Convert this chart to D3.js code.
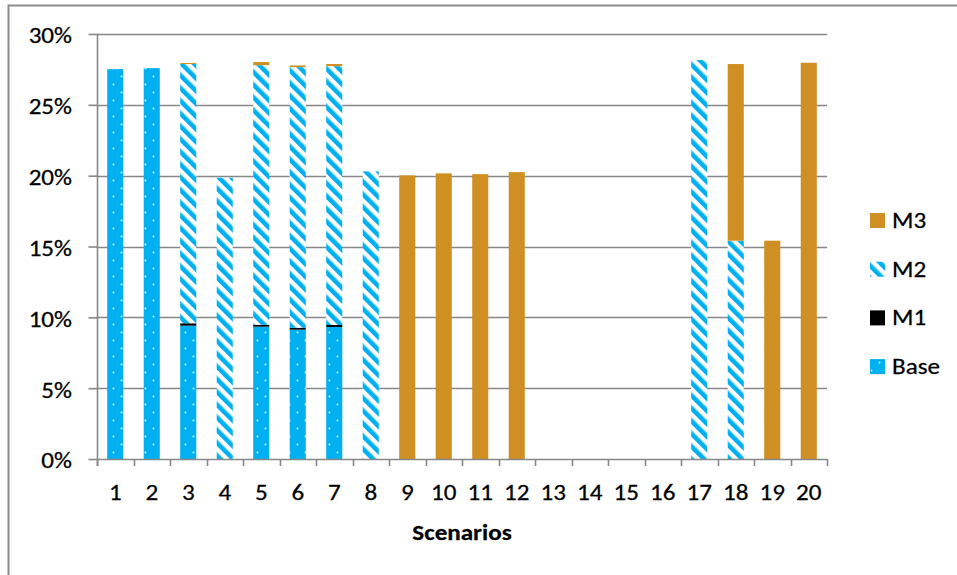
<!DOCTYPE html>
<html>
<head>
<meta charset="utf-8">
<script src="https://cdn.jsdelivr.net/npm/d3@7"></script>
<style>
  html, body { margin: 0; padding: 0; background: #fff; }
  svg { display: block; font-family: Carlito, Calibri, Lato, "Open Sans", sans-serif; }
</style>
</head>
<body>
<svg id="chart" width="957" height="575"></svg>
<script>
// Scenario labels along the x axis
const categories = ["1","2","3","4","5","6","7","8","9","10","11","12","13","14","15","16","17","18","19","20"];

// Stacked components, in percent
const base = [27.52, 27.59, 9.41, 0, 9.34, 9.13, 9.32, 0, 0, 0, 0, 0, 0, 0, 0, 0, 0, 0, 0, 0];
const m1   = [0, 0, 0.17, 0, 0.14, 0.14, 0.14, 0, 0, 0, 0, 0, 0, 0, 0, 0, 0, 0, 0, 0];
const m2   = [0, 0, 18.30, 19.85, 18.32, 18.39, 18.27, 20.30, 0, 0, 0, 0, 0, 0, 0, 0, 28.16, 15.41, 0, 0];
const m3   = [0, 0, 0.07, 0, 0.22, 0.12, 0.15, 0, 20.02, 20.16, 20.11, 20.25, 0, 0, 0, 0, 0, 12.47, 15.41, 27.97];

// Y axis ticks (percent)
const yTicks = [0, 5, 10, 15, 20, 25, 30];

const seriesNames = ["Base", "M1", "M2", "M3"];
const seriesData = { Base: base, M1: m1, M2: m2, M3: m3 };

const BLUE = "#00B0F0";
const GOLD = "#D08F22";
const GRID = "#878787";
const FONT_SIZE = 22;
const STRETCH = 1.14;   // text is set slightly wide

const svg = d3.select("#chart");

// Outer chart frame (left and top edges)
svg.append("rect")
  .attr("x", 8.5).attr("y", 5.5)
  .attr("width", 1000).attr("height", 1000)
  .attr("fill", "none").attr("stroke", "#8c8c8c").attr("stroke-width", 2);

// Fill patterns
const defs = svg.append("defs");

const dots = defs.append("pattern")
  .attr("id", "dots").attr("patternUnits", "userSpaceOnUse")
  .attr("width", 16).attr("height", 16);
dots.append("rect").attr("width", 16).attr("height", 16).attr("fill", BLUE);
dots.append("circle").attr("cx", 1.5).attr("cy", 4.5).attr("r", 1).attr("fill", "#d8f3ff");
dots.append("circle").attr("cx", 9.5).attr("cy", 12.5).attr("r", 1).attr("fill", "#d8f3ff");

const stripes = defs.append("pattern")
  .attr("id", "stripes").attr("patternUnits", "userSpaceOnUse")
  .attr("width", 9).attr("height", 9)
  .attr("patternTransform", "rotate(-45)");
stripes.append("rect").attr("width", 9).attr("height", 9).attr("fill", "#fff");
stripes.append("rect").attr("width", 4.6).attr("height", 9).attr("fill", BLUE);

const fills = { Base: "url(#dots)", M1: "#000", M2: "url(#stripes)", M3: GOLD };

// Places a text label at (x, y) with the horizontal stretch applied
function placeText(sel, fx, fy) {
  return sel.attr("transform", (d, i) => `translate(${fx(d, i)},${fy(d, i)}) scale(${STRETCH},1)`)
    .attr("font-size", FONT_SIZE).attr("fill", "#000")
    .attr("stroke", "#000").attr("stroke-width", 0.25);
}

// Plot area
const plotLeft = 97, plotRight = 827, plotTop = 34, plotBottom = 459;

const x = d3.scaleBand().domain(categories).range([plotLeft, plotRight]).paddingInner(0.56).paddingOuter(0.28);
const y = d3.scaleLinear().domain([0, 30]).range([plotBottom, plotTop]);

// Horizontal gridlines
svg.append("g").selectAll("line").data(yTicks.filter(d => d > 0)).join("line")
  .attr("x1", plotLeft).attr("x2", plotRight)
  .attr("y1", d => Math.round(y(d)) + 0.5).attr("y2", d => Math.round(y(d)) + 0.5)
  .attr("stroke", GRID).attr("stroke-width", 1.6);

// Stacked bars
const table = categories.map((c, i) => {
  const row = { cat: c };
  seriesNames.forEach(s => row[s] = seriesData[s][i]);
  return row;
});
const stacked = d3.stack().keys(seriesNames)(table);

svg.append("g").selectAll("g").data(stacked).join("g")
  .attr("fill", d => fills[d.key])
  .selectAll("rect").data(d => d.filter(p => p[1] - p[0] > 0)).join("rect")
  .attr("x", d => x(d.data.cat))
  .attr("width", x.bandwidth())
  .attr("y", d => y(d[1]))
  .attr("height", d => y(d[0]) - y(d[1]));

// Y axis: line, ticks via d3.axisLeft, labels
const yAxis = d3.axisLeft(y).tickValues(yTicks).tickFormat("").tickSize(9);
const yg = svg.append("g").attr("transform", `translate(${plotLeft + 0.5},0)`).call(yAxis);
yg.select(".domain").remove();
yg.append("line").attr("x1", 0).attr("x2", 0).attr("y1", plotTop).attr("y2", plotBottom + 7)
  .attr("stroke", GRID).attr("stroke-width", 1.6);
yg.selectAll(".tick line").attr("stroke", GRID).attr("stroke-width", 1.6);

svg.append("g").selectAll("text").data(yTicks).join("text")
  .attr("text-anchor", "end")
  .attr("dy", "0.34em")
  .call(placeText, () => 72, d => y(d) + 2)
  .text(d => d + "%");

// X axis: baseline, boundary ticks, labels
const xg = svg.append("g");
xg.append("line").attr("x1", plotLeft).attr("x2", plotRight)
  .attr("y1", plotBottom + 0.5).attr("y2", plotBottom + 0.5)
  .attr("stroke", GRID).attr("stroke-width", 1.6);
const bounds = d3.range(categories.length + 1).map(i => plotLeft + i * (plotRight - plotLeft) / categories.length);
xg.selectAll("line.b").data(bounds).join("line").attr("class", "b")
  .attr("x1", d => Math.round(d) + 0.5).attr("x2", d => Math.round(d) + 0.5)
  .attr("y1", plotBottom).attr("y2", plotBottom + 7)
  .attr("stroke", GRID).attr("stroke-width", 1.6);
xg.selectAll("text").data(categories).join("text")
  .attr("text-anchor", "middle")
  .call(placeText, d => x(d) + x.bandwidth() / 2, () => 500)
  .text(d => d);

svg.append("g").selectAll("text").data(["Scenarios"]).join("text")
  .attr("text-anchor", "middle")
  .attr("font-weight", "bold")
  .call(placeText, () => 462, () => 540)
  .text(d => d);

// Legend (top to bottom: M3, M2, M1, Base)
const legendItems = ["M3", "M2", "M1", "Base"];
const legend = svg.append("g").selectAll("g").data(legendItems).join("g")
  .attr("transform", (d, i) => `translate(870, ${220 + i * 48.7})`);
legend.append("rect")
  .attr("x", 0).attr("y", -7).attr("width", 15).attr("height", 15)
  .attr("fill", d => fills[d]);
legend.append("text")
  .call(placeText, () => 22, () => 8)
  .text(d => d);
</script>
</body>
</html>
